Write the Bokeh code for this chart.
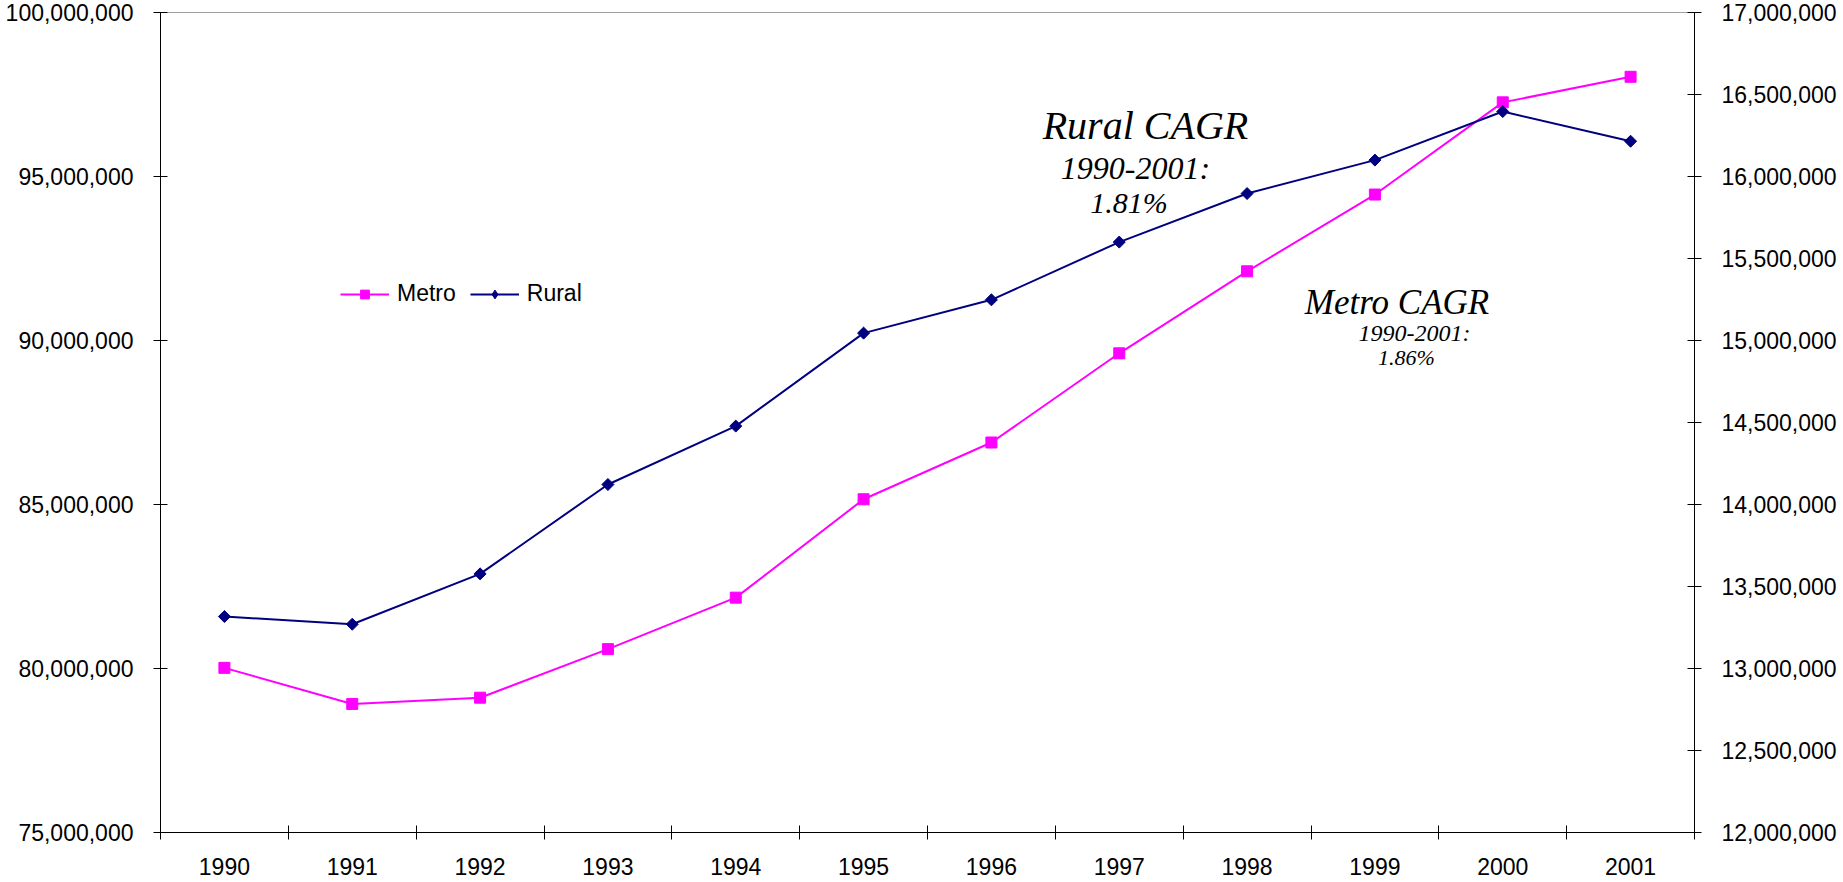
from bokeh.plotting import figure
from bokeh.models import (Range1d, LinearAxis, FixedTicker, NumeralTickFormatter, Label,
                          Legend, LegendItem)
from bokeh.embed import file_html
from bokeh.resources import INLINE

# Population by year, metro (left axis) and rural (right axis)
years = [1990, 1991, 1992, 1993, 1994, 1995, 1996, 1997, 1998, 1999, 2000, 2001]
metro = [80_020_000, 78_920_000, 79_110_000, 80_590_000, 82_160_000, 85_160_000,
         86_890_000, 89_610_000, 92_110_000, 94_450_000, 97_260_000, 98_040_000]
rural = [13_317_000, 13_270_000, 13_577_000, 14_122_000, 14_478_000, 15_045_000,
         15_248_000, 15_600_000, 15_896_000, 16_100_000, 16_396_000, 16_215_000]

left_ticks = [75_000_000, 80_000_000, 85_000_000, 90_000_000, 95_000_000, 100_000_000]
right_ticks = [12_000_000, 12_500_000, 13_000_000, 13_500_000, 14_000_000, 14_500_000,
               15_000_000, 15_500_000, 16_000_000, 16_500_000, 17_000_000]

METRO = "#FF00FF"
RURAL = "#000080"
SANS = "Liberation Sans"
SERIF = "Liberation Serif"

p = figure(width=1843, height=882,
           x_range=Range1d(years[0] - 0.5, years[-1] + 0.5),
           y_range=Range1d(left_ticks[0], left_ticks[-1]),
           output_backend="svg", toolbar_location=None,
           min_border_left=160, min_border_right=149,
           min_border_top=12, min_border_bottom=50)
p.extra_y_ranges = {"right": Range1d(right_ticks[0], right_ticks[-1])}

p.background_fill_color = "white"
p.border_fill_color = "white"
p.outline_line_color = "#a0a0a0"
p.xgrid.visible = False
p.ygrid.visible = False

def style_y(ax, ticks):
    ax.ticker = FixedTicker(ticks=ticks)
    ax.formatter = NumeralTickFormatter(format="0,0")
    ax.axis_line_color = "black"
    ax.major_tick_line_color = "black"
    ax.major_tick_in = 7
    ax.major_tick_out = 7
    ax.minor_tick_line_color = None
    ax.major_label_text_font = SANS
    ax.major_label_text_font_size = "23px"
    ax.major_label_text_color = "black"
    ax.major_label_standoff = 20

style_y(p.yaxis[0], left_ticks)

right_axis = LinearAxis(y_range_name="right")
style_y(right_axis, right_ticks)
p.add_layout(right_axis, "right")

# Year labels centred under each point, ticks on the boundaries between years
xa = p.xaxis[0]
xa.ticker = FixedTicker(ticks=years, minor_ticks=[y - 0.5 for y in years] + [years[-1] + 0.5])
xa.formatter = NumeralTickFormatter(format="0")
xa.axis_line_color = "black"
xa.major_tick_line_color = None
xa.major_tick_in = 0
xa.major_tick_out = 0
xa.minor_tick_line_color = "black"
xa.minor_tick_in = 7
xa.minor_tick_out = 7
xa.major_label_text_font = SANS
xa.major_label_text_font_size = "23px"
xa.major_label_text_color = "black"
xa.major_label_standoff = 18

# Series
m_line = p.line(years, metro, line_color=METRO, line_width=2)
m_pts = p.scatter(years, metro, marker="square", size=11, fill_color=METRO, line_color=METRO)
r_line = p.line(years, rural, line_color=RURAL, line_width=2, y_range_name="right")
# diamond markers (they also supply the legend swatch), covered by the wider ones below
r_key = p.scatter(years, rural, marker="diamond", size=8, fill_color=RURAL, line_color=RURAL,
                  y_range_name="right")
# rotated squares give the even-sided diamond markers
p.scatter(years, rural, marker="square", angle=0.7853981634, size=8.5, fill_color=RURAL,
          line_color=RURAL, y_range_name="right")

lg = Legend(items=[LegendItem(label="Metro", renderers=[m_line, m_pts]),
                   LegendItem(label="Rural", renderers=[r_line, r_key])],
            location=(180, 525), orientation="horizontal",
            border_line_color=None, background_fill_alpha=0,
            padding=0, margin=0, spacing=14,
            glyph_width=49, glyph_height=22, label_standoff=8,
            label_text_font=SANS, label_text_font_size="23px", label_text_color="black")
p.add_layout(lg, "center")

# Growth-rate notes
notes = [
    ("Rural CAGR", 1997.205, 16_311_000, "right", "40px"),
    ("1990-2001:", 1997.127, 16_049_000, "right", "32px"),
    ("1.81%", 1997.076, 15_841_000, "right", "30px"),
    ("Metro CAGR", 1999.173, 91_160_000, "default", "35px"),
    ("1990-2001:", 1999.310, 90_240_000, "default", "24px"),
    ("1.86%", 1999.247, 89_480_000, "default", "22px"),
]
for txt, x, y, rng, size in notes:
    p.add_layout(Label(x=x, y=y, y_range_name=rng, text=txt, text_font=SERIF,
                       text_font_style="italic", text_font_size=size, text_color="black",
                       text_align="center", text_baseline="middle"))

open("out.html", "w").write(file_html(p, INLINE))
